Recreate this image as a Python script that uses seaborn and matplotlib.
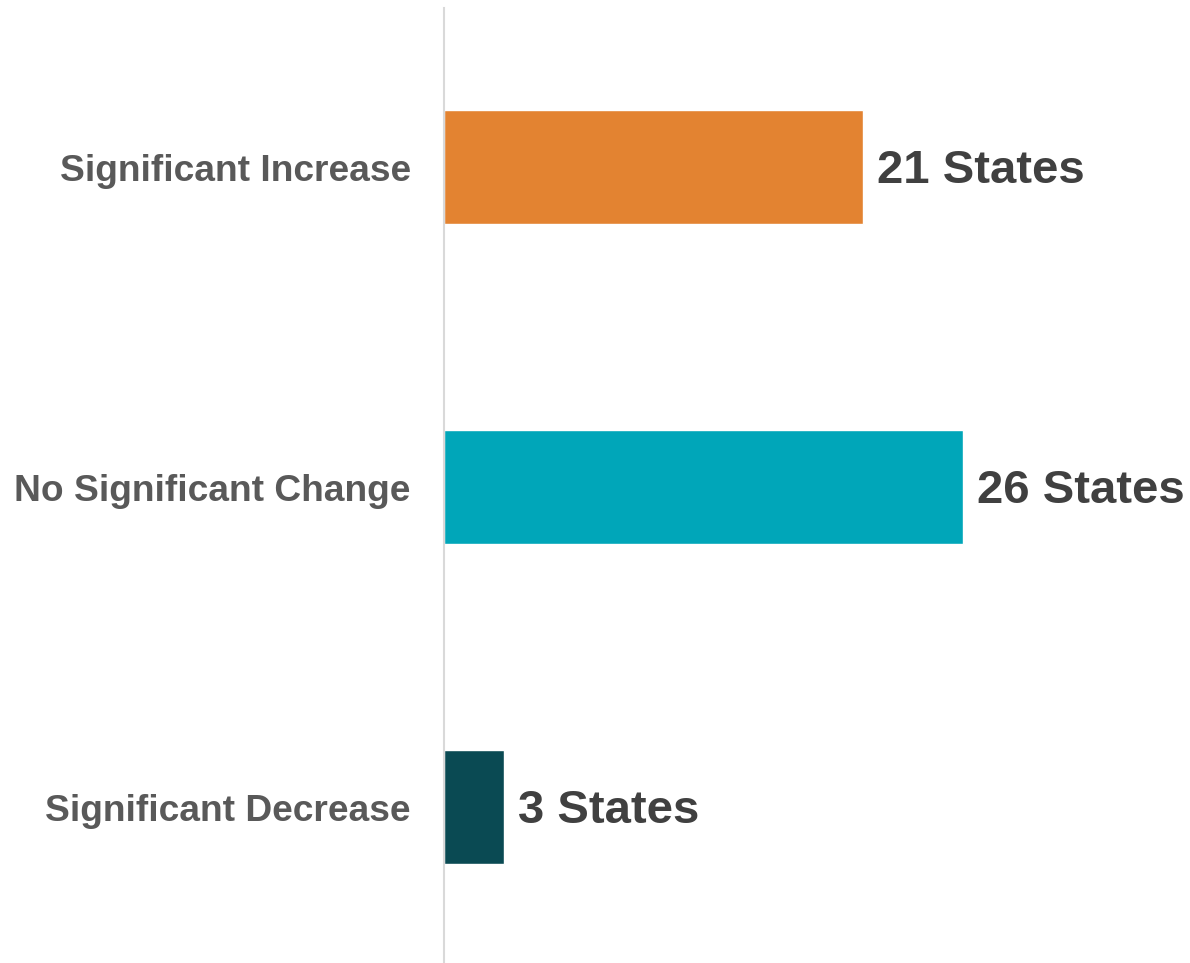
import matplotlib
matplotlib.use("Agg")
import matplotlib.pyplot as plt
import pandas as pd
import seaborn as sns

categories = ["Significant Increase", "No Significant Change", "Significant Decrease"]
state_counts = [21, 26, 3]
bar_colors = ["#E38331", "#00A6B9", "#0A4A53"]

sns.set_style("white")
plt.rcParams["font.family"] = ["Liberation Sans", "DejaVu Sans"]

df = pd.DataFrame({"category": categories, "states": state_counts})

fig = plt.figure(figsize=(11.90, 9.63), dpi=100)
ax = fig.add_axes([444 / 1190, 0.0, 1 - 444 / 1190, 955 / 963])

sns.barplot(data=df, x="states", y="category", hue="category",
            palette=bar_colors, orient="h", width=0.356,
            dodge=False, legend=False, ax=ax, saturation=1)

# value labels to the right of each bar
for i, v in enumerate(state_counts):
    ax.text(v + 0.7, i + 0.012, f"{v} States", va="center", ha="left",
            fontsize=34, fontweight="bold", color="#404040")

ax.set_xlim(0, 37.4)
ax.set_ylim(2.4875, -0.497)
ax.set_xlabel("")
ax.set_ylabel("")
ax.set_xticks([])
ax.tick_params(axis="y", length=0, pad=24, labelsize=26.7, labelcolor="#595959")
for lab in ax.get_yticklabels():
    lab.set_fontweight("bold")

for side in ["top", "right", "bottom"]:
    ax.spines[side].set_visible(False)
ax.spines["left"].set_color("#D9D9D9")
ax.spines["left"].set_linewidth(1.5)

fig.savefig("out.png", dpi=100)
